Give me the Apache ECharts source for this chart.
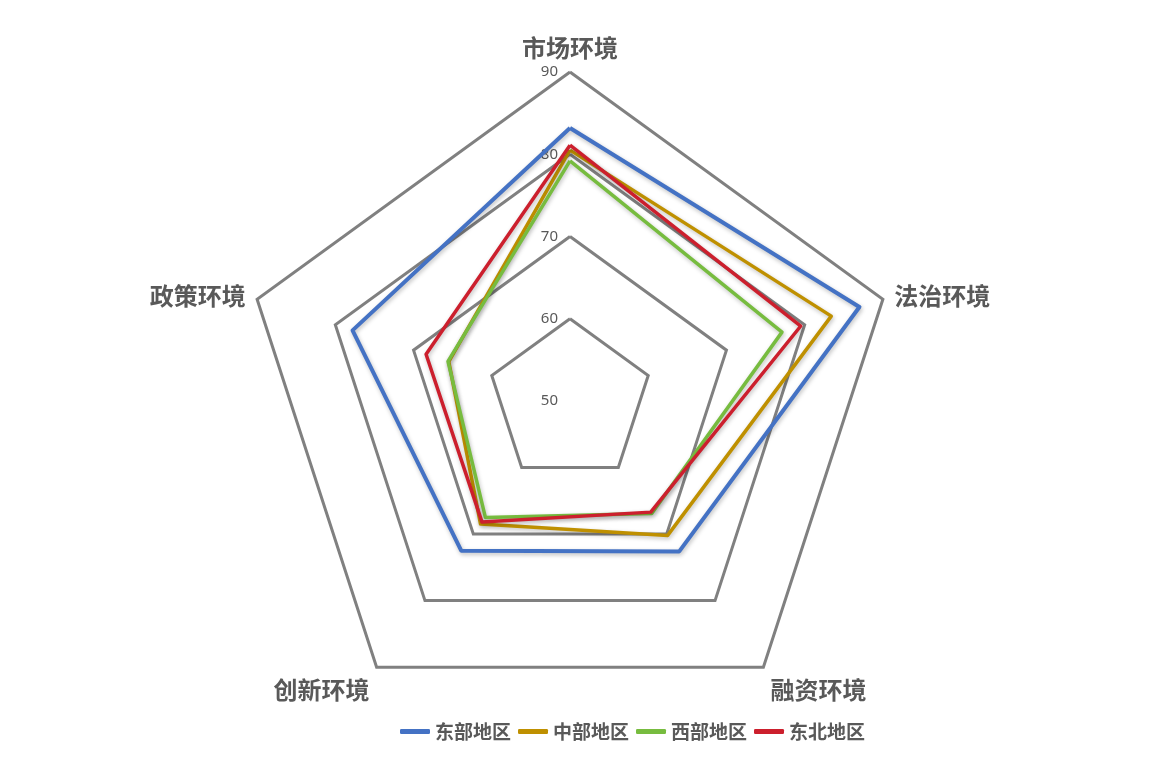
<!DOCTYPE html>
<html>
<head>
<meta charset="utf-8">
<script src="https://cdn.jsdelivr.net/npm/echarts@6/dist/echarts.min.js"></script>
<style>
  html, body { margin: 0; padding: 0; background: #ffffff; }
  #chart { width: 1156px; height: 769px; }
</style>
</head>
<body>
<div id="chart"></div>
<script>
// Indicators in ECharts order (counter-clockwise from top)
const indicatorNames = ['市场环境', '政策环境', '创新环境', '融资环境', '法治环境'];
const lowerIndicators = ['创新环境', '融资环境'];
const axisMin = 50;
const axisMax = 90;

const seriesNames = ['东部地区', '中部地区', '西部地区', '东北地区'];
const eastValues      = [83.2, 77.8, 72.5, 72.6, 87.0];
const centralValues   = [80.5, 65.5, 68.5, 70.2, 83.4];
const westValues      = [79.2, 65.6, 67.5, 66.9, 77.1];
const northeastValues = [81.1, 68.4, 68.2, 66.7, 79.5];

const colors = ['#4472C4', '#BF9000', '#77BC3F', '#CC1F2D'];
const allValues = [eastValues, centralValues, westValues, northeastValues];

const fontCJK = '"Noto Sans CJK SC", "Noto Sans", sans-serif';

const chart = echarts.init(document.getElementById('chart'), null, { renderer: 'canvas' });

const indicator = indicatorNames.map((name, i) => {
  const ind = { name: name, min: axisMin, max: axisMax };
  if (i === 0) {
    ind.axisLabel = { show: true };
  }
  return ind;
});

chart.setOption({
  backgroundColor: '#ffffff',
  animation: false,
  color: colors,
  legend: {
    data: seriesNames,
    top: 717,
    left: 395,
    icon: 'roundRect',
    itemWidth: 30,
    itemHeight: 5,
    itemGap: 7,
    textStyle: { color: '#595959', fontSize: 19, fontFamily: fontCJK, fontWeight: 'bold' }
  },
  radar: {
    center: [570, 401],
    radius: 329,
    startAngle: 90,
    splitNumber: 4,
    shape: 'polygon',
    nameGap: 12,
    axisName: {
      color: '#595959',
      fontSize: 24,
      fontFamily: fontCJK,
      fontWeight: 'bold',
      formatter: function (name) {
        return lowerIndicators.indexOf(name) >= 0 ? '{low|' + name + '}' : name;
      },
      rich: {
        low: {
          color: '#595959',
          fontSize: 24,
          fontFamily: fontCJK,
          fontWeight: 'bold',
          padding: [26, 0, 0, 0]
        }
      }
    },
    axisLine: { show: false },
    axisTick: { show: false },
    axisLabel: {
      show: false,
      color: '#595959',
      fontSize: 15,
      fontFamily: '"Noto Sans", sans-serif',
      margin: 12
    },
    splitLine: { lineStyle: { color: '#808080', width: 3 } },
    splitArea: { show: false },
    indicator: indicator
  },
  series: [{
    type: 'radar',
    symbol: 'none',
    data: seriesNames.map((name, i) => ({
      name: name,
      value: allValues[i],
      lineStyle: {
        color: colors[i],
        width: i === 0 ? 4 : 3.5,
        shadowColor: 'rgba(0,0,0,0.25)',
        shadowBlur: 4,
        shadowOffsetX: 1,
        shadowOffsetY: 2
      },
      itemStyle: { color: colors[i] }
    }))
  }]
});
</script>
</body>
</html>
